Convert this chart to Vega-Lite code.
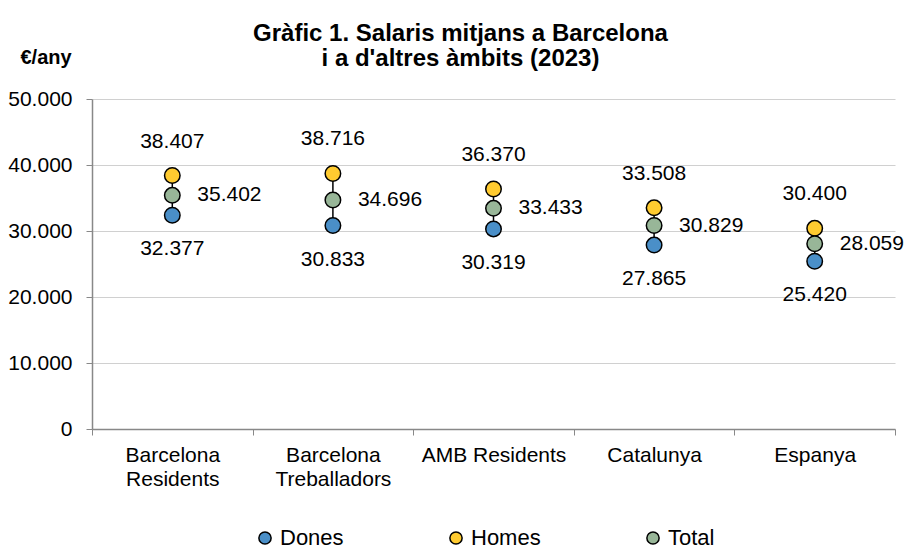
{
  "$schema": "https://vega.github.io/schema/vega-lite/v6.json",
  "width": 803,
  "height": 330,
  "autosize": "none",
  "padding": {"left": 92, "top": 99, "right": 10, "bottom": 121},
  "background": "white",
  "config": {
    "locale": {"number": {"decimal": ",", "thousands": ".", "grouping": [3], "currency": ["", " €"]}},
    "font": "Liberation Sans",
    "view": {"stroke": null}
  },
  "title": {
    "text": ["Gràfic 1. Salaris mitjans a Barcelona", "i a d'altres àmbits (2023)"],
    "font": "Liberation Sans",
    "fontSize": 24,
    "fontWeight": "bold",
    "color": "black",
    "lineHeight": 25,
    "anchor": "middle",
    "dx": -33,
    "offset": -24
  },
  "data": {
    "values": [
      {"ambit": "Barcelona Residents", "serie": "Dones", "valor": 32377},
      {"ambit": "Barcelona Residents", "serie": "Homes", "valor": 38407},
      {"ambit": "Barcelona Residents", "serie": "Total", "valor": 35402},
      {"ambit": "Barcelona Treballadors", "serie": "Dones", "valor": 30833},
      {"ambit": "Barcelona Treballadors", "serie": "Homes", "valor": 38716},
      {"ambit": "Barcelona Treballadors", "serie": "Total", "valor": 34696},
      {"ambit": "AMB Residents", "serie": "Dones", "valor": 30319},
      {"ambit": "AMB Residents", "serie": "Homes", "valor": 36370},
      {"ambit": "AMB Residents", "serie": "Total", "valor": 33433},
      {"ambit": "Catalunya", "serie": "Dones", "valor": 27865},
      {"ambit": "Catalunya", "serie": "Homes", "valor": 33508},
      {"ambit": "Catalunya", "serie": "Total", "valor": 30829},
      {"ambit": "Espanya", "serie": "Dones", "valor": 25420},
      {"ambit": "Espanya", "serie": "Homes", "valor": 30400},
      {"ambit": "Espanya", "serie": "Total", "valor": 28059}
    ]
  },
  "encoding": {
    "x": {
      "field": "ambit",
      "type": "nominal",
      "sort": ["Barcelona Residents", "Barcelona Treballadors", "AMB Residents", "Catalunya", "Espanya"],
      "scale": {"type": "band", "paddingInner": 0, "paddingOuter": 0},
      "axis": {
        "title": null,
        "labelAngle": 0,
        "labelExpr": "datum.label == 'AMB Residents' ? datum.label : split(datum.label, ' ')",
        "labelFontSize": 21,
        "labelColor": "black",
        "labelLineHeight": 24,
        "labelPadding": 9,
        "tickBand": "extent",
        "tickSize": 6,
        "tickColor": "#888888",
        "domainColor": "#888888",
        "domainWidth": 1.5,
        "grid": false
      }
    }
  },
  "layer": [
    {
      "mark": {"type": "rule", "color": "black", "strokeWidth": 1.5},
      "encoding": {
        "y": {"aggregate": "min", "field": "valor", "type": "quantitative"},
        "y2": {"aggregate": "max", "field": "valor"}
      }
    },
    {
      "mark": {"type": "point", "filled": true, "shape": "circle", "size": 240, "stroke": "black", "strokeWidth": 1.5, "opacity": 1},
      "encoding": {
        "y": {
          "field": "valor",
          "type": "quantitative",
          "scale": {"domain": [0, 50000], "nice": false},
          "axis": {
            "values": [0, 10000, 20000, 30000, 40000, 50000],
            "format": ",d",
            "title": "€/any",
            "titleAngle": 0,
            "titleAlign": "left",
            "titleBaseline": "middle",
            "titleX": -72,
            "titleY": -42,
            "titleFontSize": 20,
            "titleFontWeight": "bold",
            "titleColor": "black",
            "labelFontSize": 21,
            "labelColor": "black",
            "labelPadding": 14,
            "tickSize": 6,
            "tickColor": "#888888",
            "domainColor": "#888888",
            "domainWidth": 1.5,
            "gridColor": "#d0d0d0",
            "gridWidth": 1.2
          }
        },
        "color": {
          "field": "serie",
          "type": "nominal",
          "scale": {"domain": ["Dones", "Homes", "Total"], "range": ["#4a8fc8", "#ffcb30", "#98b698"]},
          "legend": {
            "title": null,
            "orient": "none",
            "direction": "horizontal",
            "legendX": 162,
            "legendY": 428,
            "columnPadding": 101,
            "symbolSize": 150,
            "symbolType": "circle",
            "symbolStrokeColor": "black",
            "symbolStrokeWidth": 1.5,
            "labelFontSize": 22,
            "labelColor": "black",
            "labelOffset": 4
          }
        }
      }
    },
    {
      "transform": [{"filter": "datum.serie == 'Homes'"}],
      "mark": {"type": "text", "fontSize": 21, "color": "black", "dy": -34, "align": "center", "baseline": "middle"},
      "encoding": {
        "y": {"field": "valor", "type": "quantitative"},
        "text": {"field": "valor", "type": "quantitative", "format": ",d"}
      }
    },
    {
      "transform": [{"filter": "datum.serie == 'Dones'"}],
      "mark": {"type": "text", "fontSize": 21, "color": "black", "dy": 34, "align": "center", "baseline": "middle"},
      "encoding": {
        "y": {"field": "valor", "type": "quantitative"},
        "text": {"field": "valor", "type": "quantitative", "format": ",d"}
      }
    },
    {
      "transform": [{"filter": "datum.serie == 'Total'"}],
      "mark": {"type": "text", "fontSize": 21, "color": "black", "dx": 25, "align": "left", "baseline": "middle"},
      "encoding": {
        "y": {"field": "valor", "type": "quantitative"},
        "text": {"field": "valor", "type": "quantitative", "format": ",d"}
      }
    }
  ]
}
